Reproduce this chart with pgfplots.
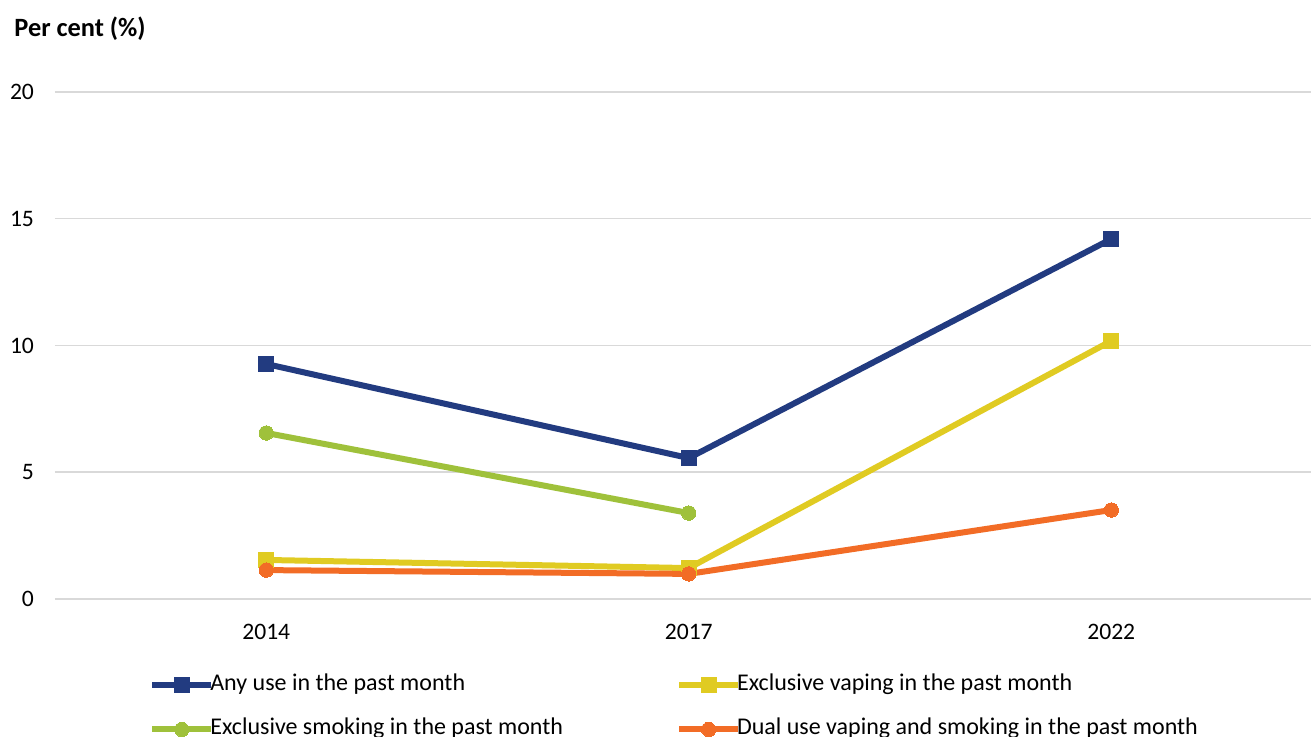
\documentclass[border=0pt]{standalone}
\usepackage{fontspec}
\setmainfont{Carlito}
\usepackage{pgfplots}
\pgfplotsset{compat=1.18}
\definecolor{cAny}{HTML}{223B80}
\definecolor{cVape}{HTML}{E0CB22}
\definecolor{cSmoke}{HTML}{9FC13B}
\definecolor{cDual}{HTML}{F26C26}
\definecolor{gridgray}{HTML}{D9D9D9}
\begin{document}
\begin{tikzpicture}[x=1pt,y=1pt]
\useasboundingbox (0,0) rectangle (655.5,368.5);
\node[anchor=west,font=\bfseries\fontsize{13.2}{15}\selectfont,inner sep=0] at (7,354) {Per cent (\%)};
\begin{axis}[
  at={(27.5pt,69pt)}, anchor=south west, scale only axis,
  width=633.75pt, height=253.5pt,
  xmin=-0.5, xmax=2.5, ymin=0, ymax=20,
  xtick={0,1,2}, xticklabels={2014,2017,2022},
  ytick={0,5,10,15,20},
  ymajorgrids, grid style={color=gridgray, line width=0.75pt},
  axis line style={draw=none}, major tick length=0pt,
  ticklabel style={font=\fontsize{11.8}{14}\selectfont},
  yticklabel style={xshift=-7pt},
  xticklabel style={yshift=-9pt},
  /pgf/number format/assume math mode=true,
  clip=false,
  legend columns=2,
  legend cell align=left,
  legend style={at={(0.0741,-0.152)}, anchor=north west, draw=none, fill=none,
    inner sep=0pt, font=\fontsize{12}{14}\selectfont,
    nodes={inner xsep=0.5pt, inner ysep=0pt, text height=7pt, text depth=2pt},
    row sep=13pt,
    /tikz/every odd column/.style={column sep=-2.5pt},
    /tikz/column 2/.style={column sep=56pt}},
  legend image code/.code={\draw[mark repeat=2,mark phase=2,#1] plot coordinates {(0pt,0pt) (14.75pt,0pt) (29.5pt,0pt)};},
]
\addplot[color=cAny, line width=3pt, mark=square*, mark size=3.75pt, mark options={line width=0pt}]
  coordinates {(0,9.27) (1,5.56) (2,14.2)};
\addlegendentry{Any use in the past month}
\addplot[color=cVape, line width=3pt, mark=square*, mark size=3.75pt, mark options={line width=0pt}]
  coordinates {(0,1.54) (1,1.22) (2,10.18)};
\addlegendentry{Exclusive vaping in the past month}
\addplot[color=cSmoke, line width=3pt, mark=*, mark size=3.6pt, mark options={line width=0pt}]
  coordinates {(0,6.55) (1,3.39)};
\addlegendentry{Exclusive smoking in the past month}
\addplot[color=cDual, line width=3pt, mark=*, mark size=3.6pt, mark options={line width=0pt}]
  coordinates {(0,1.14) (1,0.99) (2,3.51)};
\addlegendentry{Dual use vaping and smoking in the past month}
\end{axis}
\end{tikzpicture}
\end{document}
